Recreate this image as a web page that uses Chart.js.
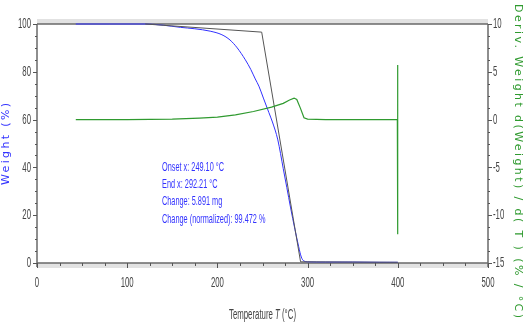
<!DOCTYPE html>
<html>
<head>
<meta charset="utf-8">
<script src="https://cdn.jsdelivr.net/npm/chart.js@4"></script>
<style>
  html, body { margin: 0; padding: 0; background: #fff; }
  #tga { display: block; }
</style>
</head>
<body>
<canvas id="tga" width="524" height="325"></canvas>
<script>
/* Datos TGA */
const weightTemp = [43, 80, 120, 140, 159, 175, 192, 205, 214, 222, 231, 237, 242, 246, 251, 257, 261, 267, 273, 277, 281, 286, 290, 293, 296, 300, 320, 350, 380, 400];
const weightPct = [100, 100, 100, 99.5, 98.6, 98, 97, 95.5, 93.3, 90, 85, 81, 77, 74, 69, 63, 59, 51.5, 39.5, 31.5, 23.4, 14, 7, 2.5, 0.8, 0.5, 0.4, 0.4, 0.3, 0.3];

const tangentTemp = [120, 249.1, 292.2, 400];
const tangentPct = [100, 96.6, 0.5, 0.3];

const derivTemp = [43, 100, 150, 180, 200, 220, 240, 260, 273, 280, 285, 288, 292, 296, 300, 320, 350, 399.5, 399.7, 399.8, 399.9, 400, 400];
const derivVal = [0, 0, 0.05, 0.15, 0.25, 0.5, 0.85, 1.3, 1.7, 2.05, 2.25, 2.1, 1.2, 0.2, 0.05, 0, 0, 0, 4.9, -2.8, 4.9, 5.7, -12];

const xTicks = [0, 100, 200, 300, 400, 500];
const yTicks = [0, 20, 40, 60, 80, 100];
const y1Ticks = [-15, -10, -5, 0, 5, 10];

const notes = [
  'Onset x: 249.10 °C',
  'End x: 292.21 °C',
  'Change: 5.891 mg',
  'Change (normalized): 99.472 %',
];

const toPoints = (xs, ys) => xs.map((x, i) => ({ x: x, y: ys[i] }));

/* Texto comprimido horizontalmente */
const squeezeText = (ctx, text, x, y, sx, align) => {
  ctx.save();
  ctx.translate(x, y);
  ctx.scale(sx, 1);
  ctx.textAlign = align;
  ctx.fillText(text, 0, 0);
  ctx.restore();
};

const spacedTitle = (ctx, text, cx, cy, angle, length, font, color) => {
  ctx.save();
  ctx.font = font;
  ctx.fillStyle = color;
  const w = ctx.measureText(text).width;
  const sp = (length - w) / (text.length - 1);
  ctx.letterSpacing = sp + 'px';
  ctx.translate(cx, cy);
  ctx.rotate(angle);
  ctx.textAlign = 'left';
  ctx.textBaseline = 'middle';
  ctx.fillText(text, -length / 2, 0);
  ctx.restore();
};

const axesPlugin = {
  id: 'axesPlugin',
  beforeDatasetsDraw(chart) {
    const { ctx, chartArea: a, scales } = chart;
    ctx.save();
    // bandas grises
    ctx.fillStyle = '#e2e2e2';
    ctx.fillRect(a.left, a.top - 5, a.right - a.left, 5);
    ctx.fillRect(a.left, a.bottom, a.right - a.left, 5);
    ctx.strokeStyle = '#6a6a6a';
    ctx.lineWidth = 1.5;
    ctx.beginPath();
    ctx.moveTo(a.left, a.top); ctx.lineTo(a.right, a.top);
    ctx.moveTo(a.left, a.bottom); ctx.lineTo(a.right, a.bottom);
    ctx.moveTo(a.left, a.top); ctx.lineTo(a.left, a.bottom + 4);
    ctx.moveTo(a.right, a.top); ctx.lineTo(a.right, a.bottom + 4);
    ctx.stroke();

    // marcas
    ctx.strokeStyle = '#555';
    ctx.lineWidth = 1;
    ctx.beginPath();
    for (let v = 0; v <= 500; v += 25) {
      const px = Math.round(scales.x.getPixelForValue(v)) + 0.5;
      const len = v % 100 === 0 ? 5 : 3;
      ctx.moveTo(px, a.bottom); ctx.lineTo(px, a.bottom + len);
    }
    for (let v = 0; v <= 100; v += 5) {
      const py = Math.round(scales.y.getPixelForValue(v)) + 0.5;
      const len = v % 20 === 0 ? 4 : 2;
      ctx.moveTo(a.left - len, py); ctx.lineTo(a.left, py);
    }
    for (let v = -15; v <= 10; v += 1.25) {
      const py = Math.round(scales.y1.getPixelForValue(v)) + 0.5;
      const len = v % 5 === 0 ? 4 : 2;
      ctx.moveTo(a.right, py); ctx.lineTo(a.right + len, py);
    }
    ctx.stroke();
    ctx.restore();
  },
  afterDraw(chart) {
    const { ctx, chartArea: a, scales } = chart;
    ctx.save();
    ctx.font = '15px "Liberation Sans", Arial, sans-serif';
    ctx.fillStyle = '#444';
    ctx.textBaseline = 'middle';
    xTicks.forEach((v) => squeezeText(ctx, String(v), scales.x.getPixelForValue(v), 283, 0.52, 'center'));
    yTicks.forEach((v) => squeezeText(ctx, String(v), 31, scales.y.getPixelForValue(v), 0.52, 'right'));
    y1Ticks.forEach((v) => squeezeText(ctx, String(v), 493, scales.y1.getPixelForValue(v), 0.52, 'left'));

    // titulo eje x
    ctx.font = '14px "Liberation Sans", Arial, sans-serif';
    ctx.textBaseline = 'alphabetic';
    const p1 = 'Temperature ', p2 = 'T', p3 = ' (°C)';
    const w1 = ctx.measureText(p1).width;
    const w3 = ctx.measureText(p3).width;
    ctx.font = 'italic 14px "Liberation Sans", Arial, sans-serif';
    const w2 = ctx.measureText(p2).width;
    const sx = 67 / (w1 + w2 + w3);
    let x0 = (a.left + a.right) / 2 - 67 / 2;
    ctx.font = '14px "Liberation Sans", Arial, sans-serif';
    squeezeText(ctx, p1, x0, 319, sx, 'left');
    ctx.font = 'italic 14px "Liberation Sans", Arial, sans-serif';
    squeezeText(ctx, p2, x0 + w1 * sx, 319, sx, 'left');
    ctx.font = '14px "Liberation Sans", Arial, sans-serif';
    squeezeText(ctx, p3, x0 + (w1 + w2) * sx, 319, sx, 'left');

    // anotaciones
    ctx.font = '13px "Liberation Sans", Arial, sans-serif';
    ctx.fillStyle = '#3333ff';
    const nsx = 62 / ctx.measureText(notes[0]).width;
    notes.forEach((t, i) => squeezeText(ctx, t, 162, 171 + i * 17.2, nsx, 'left'));

    // titulos verticales
    spacedTitle(ctx, 'Weight (%)', 6, 144, -Math.PI / 2, 82, '11px "DejaVu Sans", Verdana, sans-serif', '#3333ff');
    spacedTitle(ctx, 'Deriv. Weight d(Weight) / d( T ) (% / °C)', 518, 161, Math.PI / 2, 314, '11px "DejaVu Sans", Verdana, sans-serif', '#2f9a2f');
    ctx.restore();
  },
};

const ctx = document.getElementById('tga').getContext('2d');
const tgaChart = new Chart(ctx, {
  type: 'scatter',
  data: {
    datasets: [
      {
        label: 'Deriv. Weight',
        data: toPoints(derivTemp, derivVal),
        yAxisID: 'y1',
        showLine: true,
        borderColor: '#2f9a2f',
        borderWidth: 1.2,
        pointRadius: 0,
        tension: 0,
        clip: false,
      },
      {
        label: 'Onset',
        data: toPoints(tangentTemp, tangentPct),
        yAxisID: 'y',
        showLine: true,
        borderColor: '#555',
        borderWidth: 1,
        pointRadius: 0,
        tension: 0,
        clip: false,
      },
      {
        label: 'Weight',
        data: toPoints(weightTemp, weightPct),
        yAxisID: 'y',
        showLine: true,
        borderColor: '#3030ff',
        borderWidth: 1,
        pointRadius: 0,
        cubicInterpolationMode: 'monotone',
        clip: false,
      },
    ],
  },
  options: {
    responsive: false,
    animation: false,
    layout: { padding: { top: 24, left: 0, right: 0, bottom: 0 } },
    plugins: {
      legend: { display: false },
      tooltip: { enabled: false },
    },
    scales: {
      x: {
        type: 'linear',
        min: 0,
        max: 500,
        grid: { display: false },
        border: { display: false },
        ticks: { display: false, stepSize: 100 },
        afterFit: (s) => { s.height = 62; },
      },
      y: {
        position: 'left',
        min: 0,
        max: 100,
        grid: { display: false },
        border: { display: false },
        ticks: { display: false, stepSize: 20 },
        afterFit: (s) => { s.width = 37; },
      },
      y1: {
        position: 'right',
        min: -15,
        max: 10,
        grid: { display: false },
        border: { display: false },
        ticks: { display: false, stepSize: 5 },
        afterFit: (s) => { s.width = 36; },
      },
    },
  },
  plugins: [axesPlugin],
});
</script>
</body>
</html>
